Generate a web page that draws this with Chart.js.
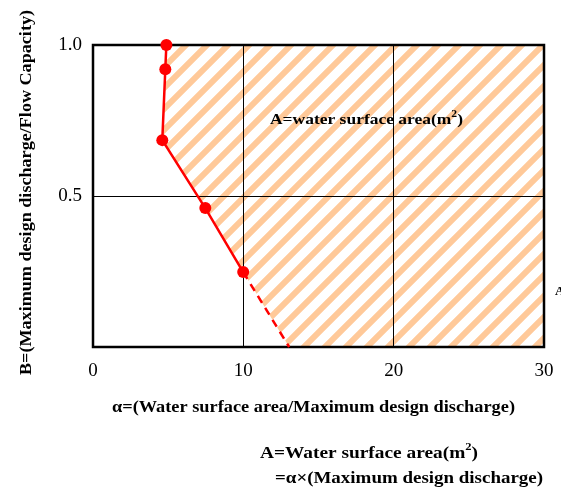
<!DOCTYPE html>
<html><head><meta charset="utf-8">
<script src="https://cdn.jsdelivr.net/npm/chart.js@4"></script>
<style>html,body{margin:0;padding:0;background:#fff}#wrap{width:561px;height:489px;position:relative}</style>
</head><body><div id="wrap"><canvas id="c" width="561" height="489"></canvas></div>
<script>
// Data
const alphaVals = [4.88, 4.81, 4.61, 7.47, 9.99];
const bVals     = [1.0, 0.92, 0.685, 0.46, 0.248];
const dashAlpha = [9.99, 13.05];
const dashB     = [0.248, 0];
const xTicks = [0, 10, 20, 30];
const yTicks = [0.5, 1.0];
const xGridAt = [10, 20];
const yGridAt = [0.5];

const SERIF = '"Liberation Serif","Times New Roman",serif';

function makePattern(ctx){
  const s = 21;
  const c = document.createElement('canvas');
  c.width = s; c.height = s;
  const g = c.getContext('2d');
  g.strokeStyle = '#FFC999';
  g.lineWidth = 6;
  g.beginPath();
  g.moveTo(-s, 2*s); g.lineTo(2*s, -s);
  g.moveTo(-s, s); g.lineTo(s, -s);
  g.moveTo(0, 2*s); g.lineTo(2*s, 0);
  g.stroke();
  return ctx.createPattern(c, 'repeat');
}

// draws parts ([text, isSup]) starting at x, stretched horizontally to targetW
function drawRich(ctx, parts, x, y, size, targetW){
  const f = p => 'bold ' + (p[1] ? Math.round(size*0.65) : size) + 'px ' + SERIF;
  let total = 0;
  const widths = parts.map(p => { ctx.font = f(p); const w = ctx.measureText(p[0]).width; total += w; return w; });
  const k = targetW ? targetW / total : 1;
  ctx.save();
  ctx.translate(x, y);
  ctx.scale(k, 1);
  let cx = 0;
  parts.forEach((p, i) => {
    ctx.font = f(p);
    ctx.textAlign = 'left';
    ctx.textBaseline = 'alphabetic';
    ctx.fillText(p[0], cx, p[1] ? -size*0.5 : 0);
    cx += widths[i];
  });
  ctx.restore();
}

const decor = {
  id: 'decor',
  beforeDraw(chart){
    const {ctx, scales:{x, y}} = chart;
    ctx.save();
    ctx.fillStyle = '#fff';
    ctx.fillRect(0, 0, chart.width, chart.height);
    ctx.beginPath();
    const px = alphaVals.map(v => x.getPixelForValue(v));
    const py = bVals.map(v => y.getPixelForValue(v));
    ctx.moveTo(px[0], py[0]);
    for (let i = 1; i < px.length; i++) ctx.lineTo(px[i], py[i]);
    ctx.lineTo(x.getPixelForValue(dashAlpha[1]), y.getPixelForValue(dashB[1]));
    ctx.lineTo(x.getPixelForValue(30), y.getPixelForValue(0));
    ctx.lineTo(x.getPixelForValue(30), y.getPixelForValue(1));
    ctx.closePath();
    ctx.fillStyle = makePattern(ctx);
    ctx.fill();
    ctx.restore();
  },
  beforeDatasetsDraw(chart){
    const {ctx, chartArea: a} = chart;
    ctx.save();
    ctx.strokeStyle = '#000';
    ctx.lineWidth = 2.5;
    ctx.strokeRect(a.left, a.top, a.right - a.left, a.bottom - a.top);
    ctx.restore();
  },
  afterDraw(chart){
    const {ctx} = chart;
    ctx.save();
    ctx.fillStyle = '#000';
    // text inside plot
    drawRich(ctx, [['A=water surface area(m'], ['2', true], [')']], 270, 124, 15, 193);
    // y-axis title (rotated)
    ctx.save();
    ctx.translate(31, 375);
    ctx.rotate(-Math.PI/2);
    drawRich(ctx, [['B=(Maximum design discharge/Flow Capacity)']], 0, 0, 16, 365);
    ctx.restore();
    // x-axis title
    drawRich(ctx, [['\u03B1=(Water surface area/Maximum design discharge)']], 112, 412, 16, 403);
    // bottom annotation
    drawRich(ctx, [['A=Water surface area(m'], ['2', true], [')']], 260, 458, 17, 218);
    drawRich(ctx, [['=\u03B1\u00D7(Maximum design discharge)']], 275, 483, 17, 268);
    // cut-off label at right edge
    ctx.font = 'bold 13px ' + SERIF;
    ctx.textAlign = 'left';
    ctx.fillText('A', 555, 295);
    ctx.restore();
  }
};

new Chart(document.getElementById('c'), {
  type: 'scatter',
  data: {
    datasets: [
      {
        data: alphaVals.map((v, i) => ({x: v, y: bVals[i]})),
        showLine: true,
        borderColor: '#FF0000',
        backgroundColor: '#FF0000',
        borderWidth: 2.5,
        pointRadius: 6,
        pointBorderWidth: 0,
        clip: false,
        order: 0
      },
      {
        data: dashAlpha.map((v, i) => ({x: v, y: dashB[i]})),
        showLine: true,
        borderColor: '#FF0000',
        borderWidth: 2.5,
        borderDash: [8, 6],
        pointRadius: 0,
        clip: false,
        order: 1
      }
    ]
  },
  options: {
    responsive: false,
    devicePixelRatio: 1,
    animation: false,
    events: [],
    layout: { padding: { left: 0, top: 45, right: 17, bottom: 102 } },
    plugins: { legend: { display: false }, tooltip: { enabled: false } },
    scales: {
      x: {
        type: 'linear', min: 0, max: 30,
        afterBuildTicks: s => { s.ticks = xTicks.map(v => ({value: v})); },
        afterFit: s => { s.height = 40; s.paddingLeft = 0; s.paddingRight = 0; },
        grid: {
          drawTicks: false,
          color: c => xGridAt.includes(c.tick && c.tick.value) ? '#000' : 'rgba(0,0,0,0)',
          lineWidth: 1
        },
        border: { display: false },
        ticks: {
          padding: 13,
          color: '#000',
          font: { family: SERIF, size: 19 },
          maxRotation: 0,
          callback: v => String(v)
        }
      },
      y: {
        type: 'linear', min: 0, max: 1,
        afterBuildTicks: s => { s.ticks = yTicks.map(v => ({value: v})); },
        afterFit: s => { s.width = 93; s.paddingTop = 0; s.paddingBottom = 0; },
        grid: {
          drawTicks: false,
          color: c => yGridAt.includes(c.tick && c.tick.value) ? '#000' : 'rgba(0,0,0,0)',
          lineWidth: 1
        },
        border: { display: false },
        ticks: {
          padding: 11,
          color: '#000',
          font: { family: SERIF, size: 19 },
          callback: v => Number(v).toFixed(1)
        }
      }
    }
  },
  plugins: [decor]
});
</script>
</body></html>
